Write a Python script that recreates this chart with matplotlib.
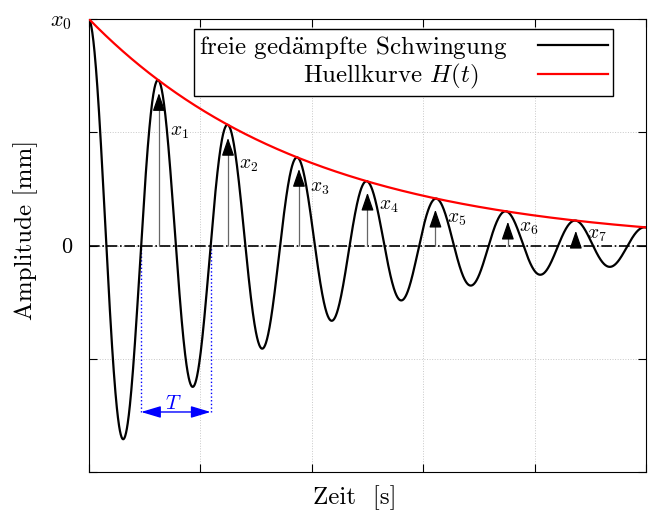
import numpy as np
import matplotlib
matplotlib.use("Agg")
from matplotlib import pyplot as plt

plt.rcParams['font.family'] = ['cmr10', 'DejaVu Serif']
plt.rcParams['mathtext.fontset'] = 'cm'
plt.rcParams['axes.unicode_minus'] = False

# values
x0 = 1.0            # start amplitude
delta = 0.505       # decay constant [1/s]
T = 0.624           # period [s]
t_end = 5.0
peak_labels = ['$x_1$', '$x_2$', '$x_3$', '$x_4$', '$x_5$', '$x_6$', '$x_7$']
peak_times = [0.628, 1.248, 1.885, 2.50, 3.11, 3.76, 4.37]
peak_values = [0.718, 0.52, 0.383, 0.278, 0.203, 0.15, 0.11]
T_start = 0.468
T_level = -0.735
x_ticks = [0, 1, 2, 3, 4, 5]
y_ticks = [-1, -0.5, 0, 0.5, 1]
y_ticklabels = ['', '', '0', '', '$x_0$']
legend_labels = [r'freie ged$\ddot{\mathrm{a}}$mpfte Schwingung', 'Huellkurve $H(t)$']

t = np.linspace(0, t_end, 2000)
H = x0 * np.exp(-delta * t)
x = H * np.cos(2 * np.pi * t / T)

fig = plt.figure(figsize=(6.48, 5.14), dpi=100)
ax = fig.add_axes([0.1373, 0.0817, 0.8596, 0.8813])

ax.grid(True, color='#c8c8c8', linestyle=':', linewidth=0.7)
ax.axhline(0, color='black', linestyle='-.', linewidth=1.2, zorder=2)

ax.plot(t, x, color='black', linewidth=1.6, label=legend_labels[0], zorder=4)
ax.plot(t, H, color='#ff0000', linewidth=1.6, label=legend_labels[1], zorder=5)

for lab, tp, xp in zip(peak_labels, peak_times, peak_values):
    tip = xp - 0.045
    ax.vlines(tp, 0, tip - 0.05, color='0.4', linewidth=0.9, zorder=3)
    ax.annotate('', xy=(tp, tip), xytext=(tp, tip - 0.06),
                arrowprops=dict(arrowstyle='-|>,head_length=1.1,head_width=0.38',
                                color='black', lw=0.9, shrinkA=0, shrinkB=0,
                                mutation_scale=10), zorder=6)
    ax.annotate(lab, xy=(tp, 0.747 * xp - 0.034), xytext=(8, 0),
                textcoords='offset points', ha='left', va='center', fontsize=14)

# period marker
T_end = T_start + T
ax.vlines([T_start, T_end], T_level, 0, color='#0000ff', linestyle=':', linewidth=1.0, zorder=3)
ax.annotate('', xy=(T_end, T_level), xytext=(T_start, T_level),
            arrowprops=dict(arrowstyle='<|-|>,head_length=1.2,head_width=0.36',
                            color='#0000ff', lw=1.0, shrinkA=0, shrinkB=0,
                            mutation_scale=10))
ax.text((T_start + T_end) / 2 - 0.02, T_level + 0.035, '$T$', color='#0000ff',
        ha='center', va='center', fontsize=15)

ax.set_xlim(0, t_end)
ax.set_ylim(-1, 1)
ax.set_xticks(x_ticks)
ax.set_xticklabels([''] * len(x_ticks))
ax.set_yticks(y_ticks)
ax.set_yticklabels(y_ticklabels)
ax.tick_params(direction='in', length=6, top=True, right=True, labelsize=16, pad=12)

ax.set_xlabel('Zeit  [s]', fontsize=18)
ax.xaxis.set_label_coords(0.478, -0.03)
ax.set_ylabel('Amplitude [mm]', fontsize=18)
ax.yaxis.set_label_coords(-0.092, 0.534)

leg = ax.legend(loc='upper right', bbox_to_anchor=(0.94, 0.978), fontsize=18,
                markerfirst=False, fancybox=False, framealpha=1, edgecolor='black',
                handlelength=2.8, labelspacing=0.05, borderpad=0.2, handletextpad=1.2,
                borderaxespad=0)
leg.get_frame().set_linewidth(1.0)
# second legend row sits further left of its line sample
rows = leg._legend_handle_box.get_children()[0].get_children()
rows[1].sep += 21

fig.savefig('out.png', dpi=100)
